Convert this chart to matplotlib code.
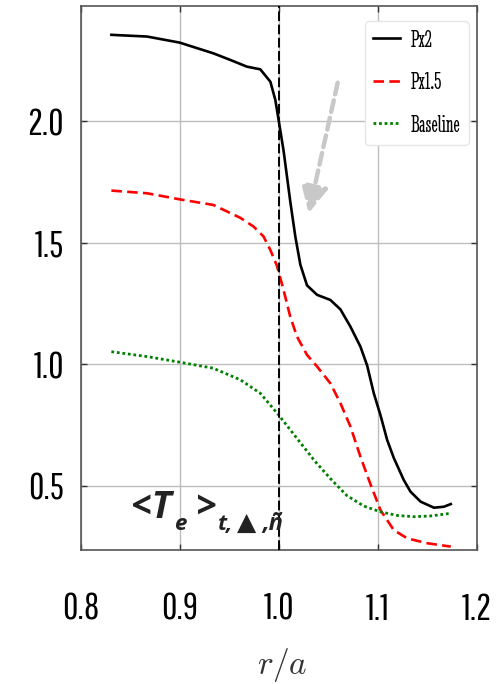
import matplotlib
matplotlib.use("Agg")
import matplotlib.pyplot as plt

plt.rcParams["mathtext.fontset"] = "cm"

# ---- data ----
px2_r = [0.831, 0.867, 0.900, 0.934, 0.951, 0.968, 0.9815, 0.9917, 0.9967, 1.000, 1.005,
         1.0118, 1.0169, 1.022, 1.0287, 1.0389, 1.0523, 1.0625, 1.0726, 1.0827, 1.0895,
         1.0962, 1.103, 1.1097, 1.1164, 1.1265, 1.1333, 1.1435, 1.157, 1.167, 1.174]
px2_t = [2.356, 2.349, 2.324, 2.280, 2.253, 2.225, 2.214, 2.163, 2.088, 2.006, 1.880,
         1.670, 1.526, 1.410, 1.325, 1.286, 1.265, 1.226, 1.155, 1.073, 0.995,
         0.881, 0.790, 0.689, 0.615, 0.524, 0.476, 0.435, 0.410, 0.414, 0.425]

px15_r = [0.831, 0.867, 0.900, 0.934, 0.9613, 0.9747, 0.9848, 0.9916, 0.9984, 1.005,
          1.0118, 1.0186, 1.0287, 1.0389, 1.0523, 1.0625, 1.0726, 1.0827, 1.093, 1.103,
          1.1164, 1.130, 1.150, 1.174]
px15_t = [1.715, 1.704, 1.679, 1.656, 1.603, 1.567, 1.526, 1.471, 1.405, 1.306,
          1.196, 1.114, 1.039, 0.991, 0.922, 0.840, 0.744, 0.620, 0.505, 0.400,
          0.318, 0.284, 0.264, 0.250]

base_r = [0.831, 0.867, 0.900, 0.934, 0.9615, 0.9815, 1.000, 1.0186, 1.037, 1.0523,
          1.069, 1.086, 1.103, 1.120, 1.137, 1.1535, 1.174]
base_t = [1.052, 1.032, 1.009, 0.984, 0.936, 0.881, 0.792, 0.695, 0.600, 0.530,
          0.460, 0.417, 0.393, 0.378, 0.373, 0.376, 0.387]

series_labels = ["Px2", "Px1.5", "Baseline"]
x_ticks = [0.8, 0.9, 1.0, 1.1, 1.2]
x_ticklabels = ["0.8", "0.9", "1.0", "1.1", "1.2"]
y_ticks = [0.5, 1.0, 1.5, 2.0]
y_ticklabels = ["0.5", "1.0", "1.5", "2.0"]
separatrix = 1.0
arrow_tail = (1.0597, 2.159)
arrow_tip = (1.0304, 1.622)

W, H = 504, 684
fig = plt.figure(figsize=(W / 100, H / 100), dpi=100)
ax = fig.add_axes([80.7 / W, 1 - 550 / H, (476.5 - 80.7) / W, (550 - 6.4) / H])

ax.set_xlim(0.8, 1.2)
ax.set_ylim(0.236, 2.473)

ax.grid(True, color="#bdbdbd", lw=1.0)
ax.set_axisbelow(True)

ax.plot(px2_r, px2_t, color="black", lw=1.9, label=series_labels[0], zorder=3)
ax.plot(px15_r, px15_t, color="#ff0000", lw=1.9, ls=(0, (4, 2)), label=series_labels[1], zorder=3)
ax.plot(base_r, base_t, color="#008000", lw=2.0, ls=(0, (1, 1)), label=series_labels[2], zorder=3)

ax.axvline(separatrix, color="black", lw=1.4, ls=(0, (5, 1.8)), zorder=4)

ax.annotate("", xy=arrow_tip, xytext=arrow_tail,
            arrowprops=dict(arrowstyle="-|>,head_length=0.9,head_width=0.45",
                            mutation_scale=18, color="#c8c8c8", lw=3.2,
                            linestyle=(0, (2.7, 1.35)), shrinkA=0, shrinkB=0),
            zorder=2)

for s in ax.spines.values():
    s.set_color("#555555")
    s.set_linewidth(1.2)

tick_font = dict(family=["Pathway Gothic One", "DejaVu Sans"], size=27)
ax.set_xticks(x_ticks)
ax.set_xticklabels(x_ticklabels, fontdict=tick_font)
ax.set_yticks(y_ticks)
ax.set_yticklabels(y_ticklabels, fontdict=tick_font)
ax.tick_params(axis="both", direction="in", length=4, width=1.0, color="#333333",
               top=True, right=True)
ax.tick_params(axis="x", pad=30)
ax.tick_params(axis="y", pad=12)

ax.set_xlabel(r"$r/a$", fontsize=24, color="#333333", va="center")
ax.xaxis.set_label_coords(0.51, (550 - 665) / 543.6)

leg = ax.legend(loc="upper right", bbox_to_anchor=(0.981, 0.973), borderaxespad=0,
                prop=dict(family=["Stint Ultra Condensed", "DejaVu Serif"], size=17.5),
                handlelength=1.1, handletextpad=0.45, labelspacing=0.85,
                frameon=True, framealpha=1.0, edgecolor="#e6e6e6", fancybox=True,
                borderpad=0.35)

# annotation text  <T_e>_{t,▲,ñ}
fam = ["Open Sans", "DejaVu Sans"]
kw = dict(weight="bold", style="italic", va="baseline", color="#222222")
fig.text(131 / W, 1 - 518 / H, "<T", family=fam, size=27, **kw)
fig.text(174 / W, 1 - 530 / H, "e", family=fam, size=16, **kw)
fig.text(196 / W, 1 - 518 / H, ">", family=fam, size=27, **kw)
fig.text(218 / W, 1 - 530 / H, "t,", family=fam, size=16, **kw)
fig.text(237 / W, 1 - 530 / H, "\u25b2", family=["DejaVu Sans"], size=18, **kw)
fig.text(262 / W, 1 - 530 / H, ",\u00f1", family=fam, size=17, **kw)

fig.savefig("out.png", dpi=100)
